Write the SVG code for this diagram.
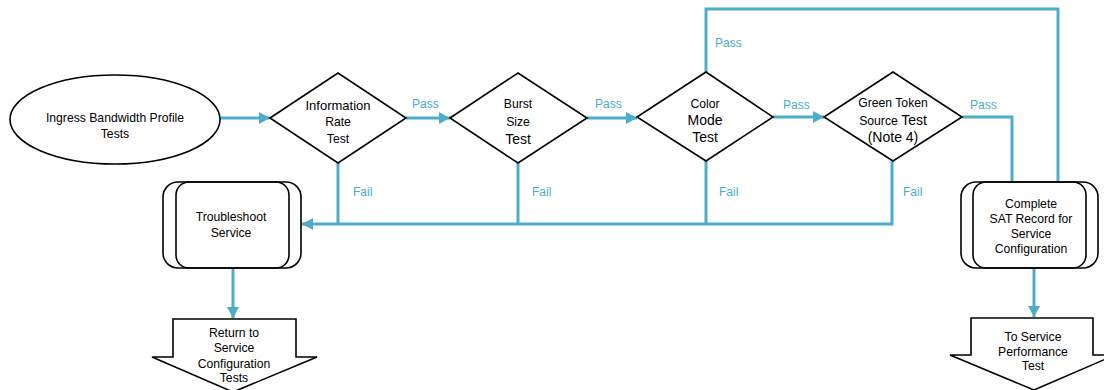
<svg xmlns="http://www.w3.org/2000/svg" width="1104" height="390" viewBox="0 0 1104 390">
  <style>
    .shape { fill: #ffffff; stroke: #000000; stroke-width: 1.6; }
    .inner { fill: none; stroke: #000000; stroke-width: 1.6; }
    .wire { fill: none; stroke: #4badc9; stroke-width: 3; stroke-linejoin: miter; }
    .lbl { font-family: "Liberation Sans", Arial, sans-serif; font-size: 12.2px; fill: #000000; text-anchor: middle; }
    .big { font-size: 14px; }
    .edge { font-family: "Liberation Sans", Arial, sans-serif; font-size: 12px; fill: #4badc9; }
  </style>
  <defs>
    <marker id="head" markerUnits="userSpaceOnUse" markerWidth="12" markerHeight="12" refX="11" refY="6" orient="auto">
      <path d="M0,0 L11,6 L0,12 z" fill="#4badc9"/>
    </marker>
  </defs>

  <!-- connectors -->
  <g id="connectors">
    <line class="wire" x1="219" y1="118" x2="270" y2="118" marker-end="url(#head)"/>
    <line class="wire" x1="406" y1="118" x2="450" y2="118" marker-end="url(#head)"/>
    <line class="wire" x1="587" y1="118" x2="637" y2="118" marker-end="url(#head)"/>
    <line class="wire" x1="773" y1="117" x2="824" y2="117" marker-end="url(#head)"/>
    <polyline class="wire" points="962,117 1012,117 1012,182"/>
    <polyline class="wire" points="706,72 706,9 1058,9 1058,182"/>
    <line class="wire" x1="338" y1="163" x2="338" y2="224"/>
    <line class="wire" x1="518" y1="163" x2="518" y2="224"/>
    <line class="wire" x1="706" y1="161" x2="706" y2="224"/>
    <polyline class="wire" points="892,161 892,224 302,224" marker-end="url(#head)"/>
    <line class="wire" x1="233" y1="268" x2="233" y2="318" marker-end="url(#head)"/>
    <line class="wire" x1="1034" y1="268" x2="1034" y2="317" marker-end="url(#head)"/>
    <text class="edge" x="412" y="108">Pass</text>
    <text class="edge" x="595" y="108">Pass</text>
    <text class="edge" x="783" y="109">Pass</text>
    <text class="edge" x="970" y="109">Pass</text>
    <text class="edge" x="715" y="47">Pass</text>
    <text class="edge" x="353" y="196">Fail</text>
    <text class="edge" x="532" y="196">Fail</text>
    <text class="edge" x="719" y="196">Fail</text>
    <text class="edge" x="903" y="196">Fail</text>
  </g>

  <g id="start">
    <ellipse class="shape" cx="115" cy="119.5" rx="105" ry="44.5"/>
    <text class="lbl" x="115" y="121.5">Ingress Bandwidth Profile</text>
    <text class="lbl" x="115" y="137.5">Tests</text>
  </g>

  <g id="info-rate">
    <polygon class="shape" points="270,118 338,73 406,118 338,163"/>
    <text class="lbl" x="338" y="109.5" style="font-size:13px">Information</text>
    <text class="lbl" x="338" y="126">Rate</text>
    <text class="lbl" x="338" y="143">Test</text>
  </g>

  <g id="burst-size">
    <polygon class="shape" points="450,118 518,73 587,118 518,163"/>
    <text class="lbl" x="518" y="108">Burst</text>
    <text class="lbl" x="518" y="126">Size</text>
    <text class="lbl big" x="518" y="144">Test</text>
  </g>

  <g id="color-mode">
    <polygon class="shape" points="637,117 706,72 773,117 706,161"/>
    <text class="lbl" x="705" y="107.5">Color</text>
    <text class="lbl big" x="705" y="125">Mode</text>
    <text class="lbl big" x="705" y="142">Test</text>
  </g>

  <g id="green-token">
    <polygon class="shape" points="824,117 893,72 962,117 893,161"/>
    <text class="lbl" x="893" y="106.5">Green Token</text>
    <text class="lbl" x="893" y="124.5">Source <tspan class="big">Test</tspan></text>
    <text class="lbl big" x="893" y="142">(Note 4)</text>
  </g>

  <g id="troubleshoot">
    <rect class="shape" x="163" y="182" width="138" height="86" rx="15"/>
    <rect class="inner" x="176" y="182" width="113" height="86" rx="13"/>
    <text class="lbl" x="231" y="221">Troubleshoot</text>
    <text class="lbl" x="231" y="236.5">Service</text>
  </g>

  <g id="return-config">
    <polygon class="shape" points="173,319 296,319 296,357 317,357 233,392 152,357 173,357"/>
    <text class="lbl" x="234" y="336.5">Return to</text>
    <text class="lbl" x="234" y="352">Service</text>
    <text class="lbl" x="234" y="367.5">Configuration</text>
    <text class="lbl" x="234" y="381.5">Tests</text>
  </g>

  <g id="complete-record">
    <rect class="shape" x="961" y="182" width="137" height="86" rx="15"/>
    <rect class="inner" x="973" y="182" width="113" height="86" rx="13"/>
    <text class="lbl" x="1031" y="207.5">Complete</text>
    <text class="lbl" x="1031" y="223">SAT Record for</text>
    <text class="lbl" x="1031" y="237.5">Service</text>
    <text class="lbl" x="1031" y="252.5">Configuration</text>
  </g>

  <g id="performance">
    <polygon class="shape" points="971,318 1093,318 1093,355 1115,355 1034,390 950,355 971,355"/>
    <text class="lbl" x="1033" y="340.5">To Service</text>
    <text class="lbl" x="1033" y="355.5">Performance</text>
    <text class="lbl" x="1033" y="369.5">Test</text>
  </g>
</svg>
